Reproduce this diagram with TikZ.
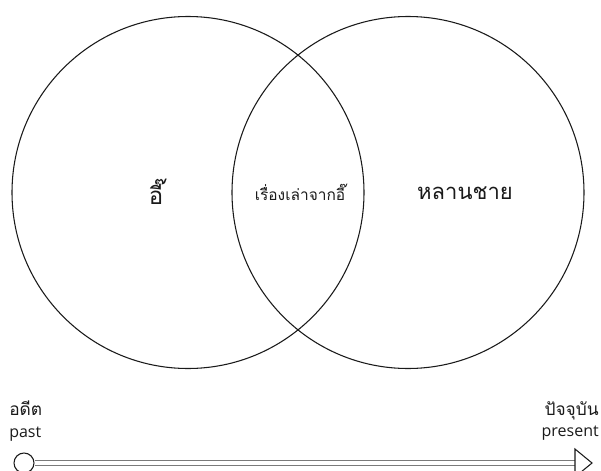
\documentclass[tikz,border=0pt]{standalone}
\usepackage{fontspec}
\newfontfamily\thaifont[Script=Thai]{Loma}
\setmainfont{Open Sans}
\usetikzlibrary{positioning,calc}
\definecolor{ink}{HTML}{1A1A1A}
\definecolor{shaft}{HTML}{7A7A7A}
\tikzset{
  set/.style={draw=ink, line width=0.8pt, circle, minimum size=2*176*0.75pt, inner sep=0pt},
  biglabel/.style={font=\thaifont\fontsize{16.5}{20}\selectfont, text=ink},
  midlabel/.style={font=\thaifont\fontsize{11.6}{14}\selectfont, text=ink},
  timelabel/.style={align=center, text=ink, inner sep=0pt},
  timeline/.style={draw=shaft, double=white, double distance=2.4pt, line width=1.1pt}
}

\begin{document}
\begin{tikzpicture}[x=0.75pt, y=-0.75pt]
  \useasboundingbox (0,0) rectangle (601,471);
  % the two sets
  \node[set] (aunt) at (188,192.5) {};
  \node[set] (nephew) at (408,192.5) {};
  \node[biglabel, font=\thaifont\fontsize{18}{20}\selectfont] (auntlabel) at (156,192) {อี๊};
  \node[midlabel] (storylabel) at (300,192) {เรื่องเล่าจากอี๊};
  \node[biglabel] (nephewlabel) at (465,193) {หลานชาย};
  % time line
  \node[timelabel, anchor=north west, align=left] (past) at (9,401) {{\thaifont\fontsize{13}{15}\selectfont อดีต}\\[4pt]{\fontsize{12}{13}\selectfont past}};
  \node[timelabel, anchor=north east, align=right] (present) at (599,401) {{\thaifont\fontsize{13}{15}\selectfont ปัจจุบัน}\\[4pt]{\fontsize{12}{13}\selectfont present}};
  \node[draw=ink, line width=0.8pt, circle, minimum size=20*0.75pt, inner sep=0pt] (start) at (24,463) {};
  \coordinate (headbase) at (575,463);
  \coordinate (tip) at (592,463);
  \draw[timeline] (start.east) -- (headbase);
  \draw[draw=ink, line width=0.8pt, fill=white, line join=miter] (tip) -- ($(headbase)+(0,-14)$) -- ($(headbase)+(0,14)$) -- cycle;
\end{tikzpicture}
\end{document}
